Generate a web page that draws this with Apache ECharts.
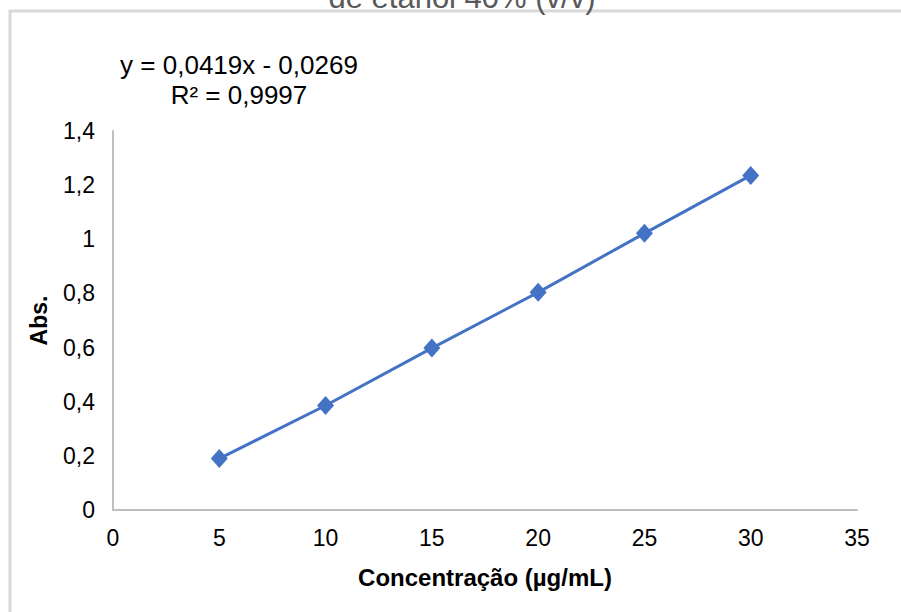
<!DOCTYPE html>
<html>
<head>
<meta charset="utf-8">
<style>
  html, body { margin: 0; padding: 0; background: #ffffff; }
  #chart { width: 901px; height: 612px; }
</style>
<script src="https://cdn.jsdelivr.net/npm/echarts@6/dist/echarts.min.js"></script>
</head>
<body>
<div id="chart"></div>
<script>
// Calibration data: concentration (µg/mL) vs absorbance
const concentrations = [5, 10, 15, 20, 25, 30];
const absorbances = [0.190, 0.386, 0.598, 0.804, 1.022, 1.236];

// Axis tick labels (decimal comma)
const xTickValues = [0, 5, 10, 15, 20, 25, 30, 35];
const yTickLabels = ['0', '0,2', '0,4', '0,6', '0,8', '1', '1,2', '1,4'];

const titleText = 'de etanol 40% (v/v)';
const equationText = 'y = 0,0419x - 0,0269\nR² = 0,9997';
const xAxisTitle = 'Concentração (µg/mL)';
const yAxisTitle = 'Abs.';

const FONT = 'Liberation Sans, Arial, sans-serif';
const AXIS_COLOR = '#bfbfbf';
const SERIES_COLOR = '#4472c4';

const chart = echarts.init(document.getElementById('chart'), null, { renderer: 'svg' });

chart.setOption({
  animation: false,
  backgroundColor: '#ffffff',
  grid: { left: 113, right: 44, top: 131, bottom: 102 },
  graphic: [
    {
      type: 'rect',
      silent: true,
      shape: { x: 10, y: 11, width: 1000, height: 1000 },
      style: { fill: 'none', stroke: '#d9d9d9', lineWidth: 3 }
    },
    {
      type: 'text',
      silent: true,
      x: 462,
      y: 13,
      style: {
        text: titleText,
        font: '31px ' + FONT,
        fill: '#595959',
        align: 'center',
        verticalAlign: 'bottom',
        lineHeight: 31
      }
    },
    {
      type: 'text',
      silent: true,
      x: 239,
      y: 50,
      style: {
        text: equationText,
        font: '26px ' + FONT,
        fill: '#000000',
        align: 'center',
        verticalAlign: 'top',
        lineHeight: 30
      }
    }
  ],
  xAxis: {
    type: 'value',
    min: 0,
    max: 35,
    interval: 5,
    name: xAxisTitle,
    nameLocation: 'middle',
    nameGap: 55,
    nameTextStyle: { fontFamily: FONT, fontSize: 24, fontWeight: 'bold', color: '#000000' },
    axisLine: { show: true, lineStyle: { color: AXIS_COLOR, width: 2 } },
    axisTick: { show: false },
    splitLine: { show: false },
    axisLabel: {
      fontFamily: FONT,
      fontSize: 23,
      color: '#000000',
      margin: 16,
      formatter: v => String(xTickValues[xTickValues.indexOf(v)])
    }
  },
  yAxis: {
    type: 'value',
    min: 0,
    max: 1.4,
    interval: 0.2,
    name: yAxisTitle,
    nameLocation: 'middle',
    nameGap: 63,
    nameRotate: 90,
    nameTextStyle: { fontFamily: FONT, fontSize: 23, fontWeight: 'bold', color: '#000000' },
    axisLine: { show: true, lineStyle: { color: AXIS_COLOR, width: 2 } },
    axisTick: { show: false },
    splitLine: { show: false },
    axisLabel: {
      fontFamily: FONT,
      fontSize: 23,
      color: '#000000',
      margin: 18,
      formatter: v => yTickLabels[Math.round(v / 0.2)]
    }
  },
  series: [
    {
      type: 'line',
      data: concentrations.map((c, i) => [c, absorbances[i]]),
      symbol: 'diamond',
      symbolSize: [17, 19],
      showAllSymbol: true,
      lineStyle: { color: SERIES_COLOR, width: 3 },
      itemStyle: { color: SERIES_COLOR },
      z: 3
    }
  ]
});
</script>
</body>
</html>
